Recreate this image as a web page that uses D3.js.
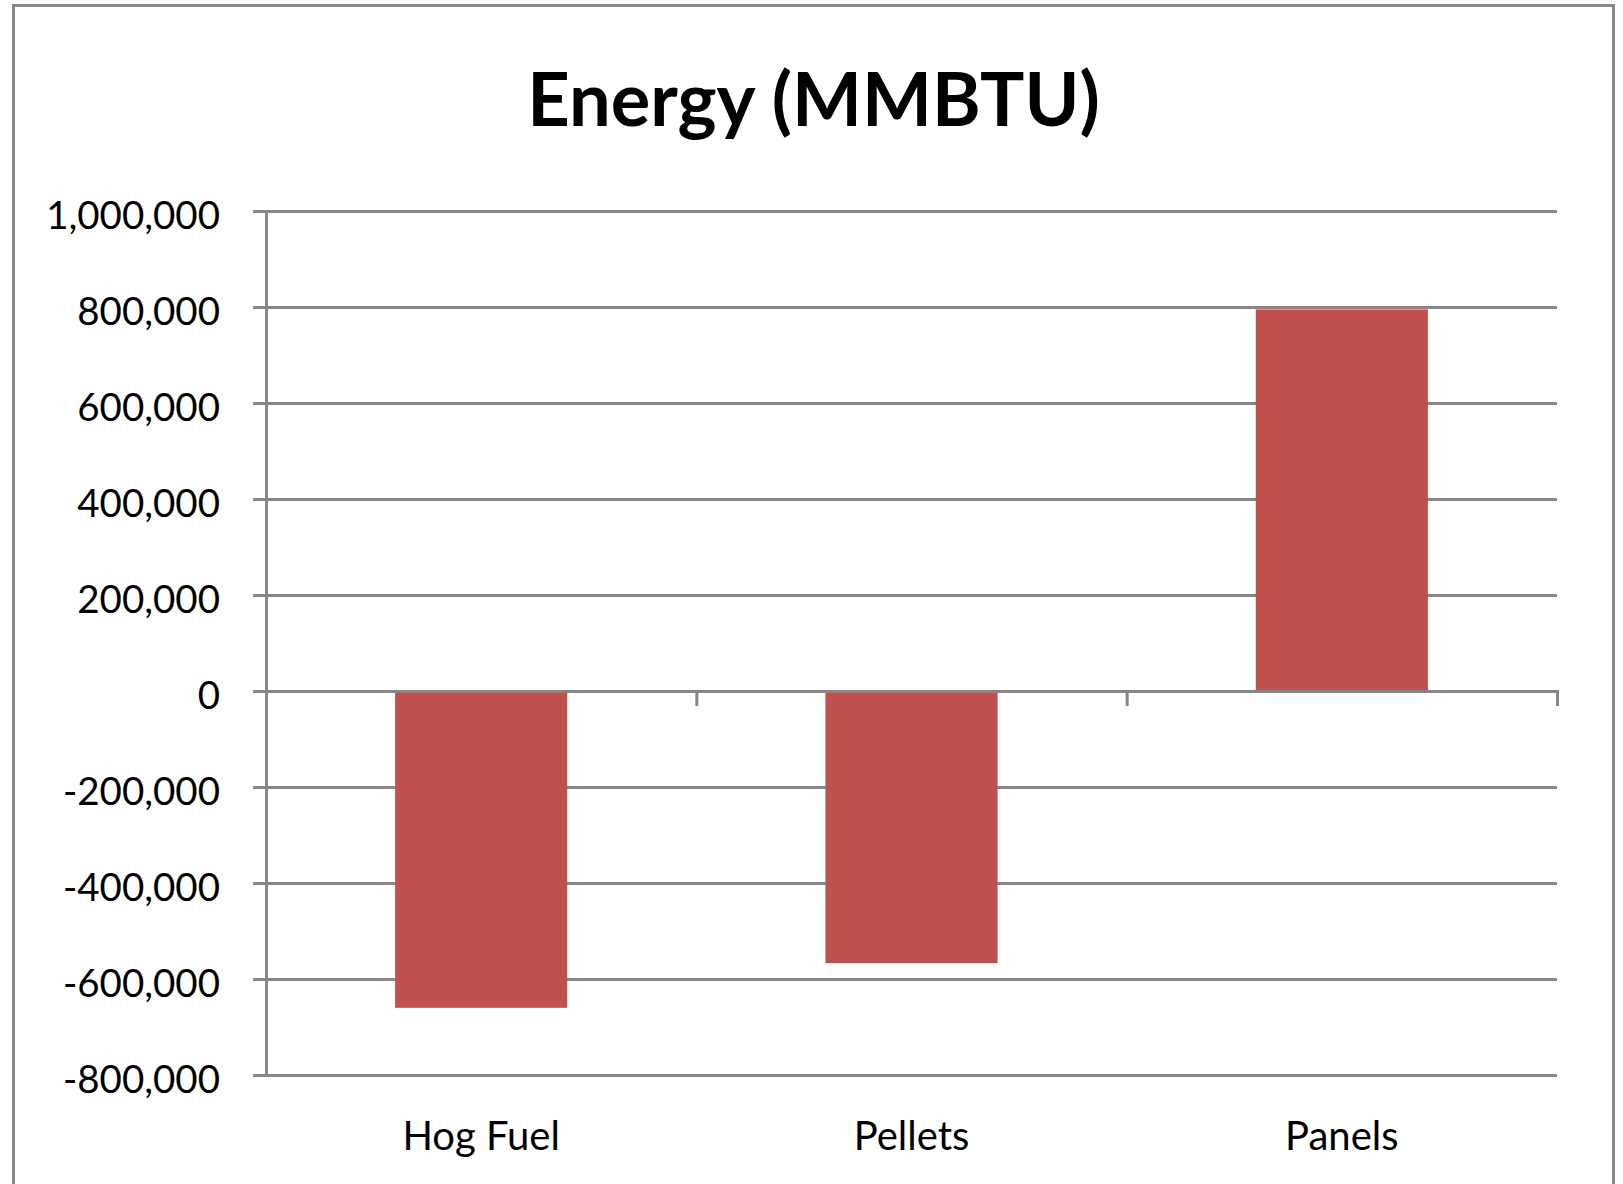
<!DOCTYPE html>
<html>
<head>
<meta charset="utf-8">
<script src="https://cdn.jsdelivr.net/npm/d3@7"></script>
<style>
  body { margin: 0; background: #fff; }
  svg { display: block; }
  text { font-family: Lato, "Open Sans", sans-serif; fill: #000; }
</style>
</head>
<body>
<div id="chart"></div>
<script>
// Datos del gráfico
const categories = ['Hog Fuel', 'Pellets', 'Panels'];
const energyValues = [-660000, -567000, 795000];
const yTicks = [-800000, -600000, -400000, -200000, 0, 200000, 400000, 600000, 800000, 1000000];
const chartTitle = 'Energy (MMBTU)';

const W = 1623, H = 1184;
const gray = '#878787';
const barColor = '#C0504D';

// área de trazado
const plot = { left: 266, right: 1557, top: 211, bottom: 1075 };

const svg = d3.select('#chart').append('svg')
    .attr('width', W)
    .attr('height', H);

// marco exterior
svg.append('rect')
    .attr('x', 13.5)
    .attr('y', 5.5)
    .attr('width', 1600)
    .attr('height', 1300)
    .attr('fill', '#fff')
    .attr('stroke', gray)
    .attr('stroke-width', 3);

// Escalas
const x = d3.scaleBand()
    .domain(categories)
    .range([plot.left, plot.right])
    .paddingInner(0.6)
    .paddingOuter(0.3);

const y = d3.scaleLinear()
    .domain([d3.min(yTicks), d3.max(yTicks)])
    .range([plot.bottom, plot.top]);

const fmt = d3.formatLocale({ decimal: '.', thousands: ',', grouping: [3], currency: ['$', ''], minus: '-' }).format(',');

// Líneas de cuadrícula
const grid = svg.append('g')
    .attr('transform', `translate(${plot.left},0)`)
    .call(d3.axisLeft(y).tickValues(yTicks).tickSize(-(plot.right - plot.left)).tickFormat(''));
grid.select('.domain').remove();
grid.selectAll('line').attr('stroke', gray).attr('stroke-width', 3);

// Barras
svg.selectAll('.bar')
    .data(categories)
    .enter()
    .append('rect')
    .attr('class', 'bar')
    .attr('x', d => x(d))
    .attr('width', x.bandwidth())
    .attr('y', (d, i) => y(Math.max(0, energyValues[i])))
    .attr('height', (d, i) => Math.abs(y(energyValues[i]) - y(0)))
    .attr('fill', barColor);

// Eje Y
const yAxis = svg.append('g')
    .attr('transform', `translate(${plot.left},0)`)
    .call(d3.axisLeft(y).tickValues(yTicks).tickSize(13).tickPadding(33).tickFormat(fmt));
yAxis.select('.domain').attr('stroke', gray).attr('stroke-width', 3);
yAxis.selectAll('line').attr('stroke', gray).attr('stroke-width', 3);
yAxis.selectAll('text')
    .attr('font-family', 'Lato, sans-serif')
    .attr('font-size', 38.5)
    .attr('fill', '#000')
    .attr('dy', '0.45em');

// Eje X en cero con marcas entre categorías
const xEdges = d3.scaleLinear().domain([0, categories.length]).range([plot.left, plot.right]);
const xAxis = svg.append('g')
    .attr('transform', `translate(0,${y(0)})`)
    .call(d3.axisBottom(xEdges).ticks(categories.length).tickSize(15).tickFormat(''));
xAxis.select('.domain').attr('stroke', gray).attr('stroke-width', 3);
xAxis.selectAll('line').attr('stroke', gray).attr('stroke-width', 3);

// Etiquetas de categorías
const xLabels = svg.append('g')
    .attr('transform', `translate(0,${plot.bottom})`)
    .call(d3.axisBottom(x).tickSize(0).tickPadding(0));
xLabels.select('.domain').remove();
xLabels.selectAll('text')
    .attr('font-family', 'Lato, sans-serif')
    .attr('font-size', 40)
    .attr('fill', '#000')
    .attr('dy', null)
    .attr('y', 75);

// Título
svg.append('text')
    .attr('x', 813.5)
    .attr('y', 126)
    .attr('text-anchor', 'middle')
    .style('font-size', '74px')
    .style('font-weight', 'bold')
    .text(chartTitle);
</script>
</body>
</html>
